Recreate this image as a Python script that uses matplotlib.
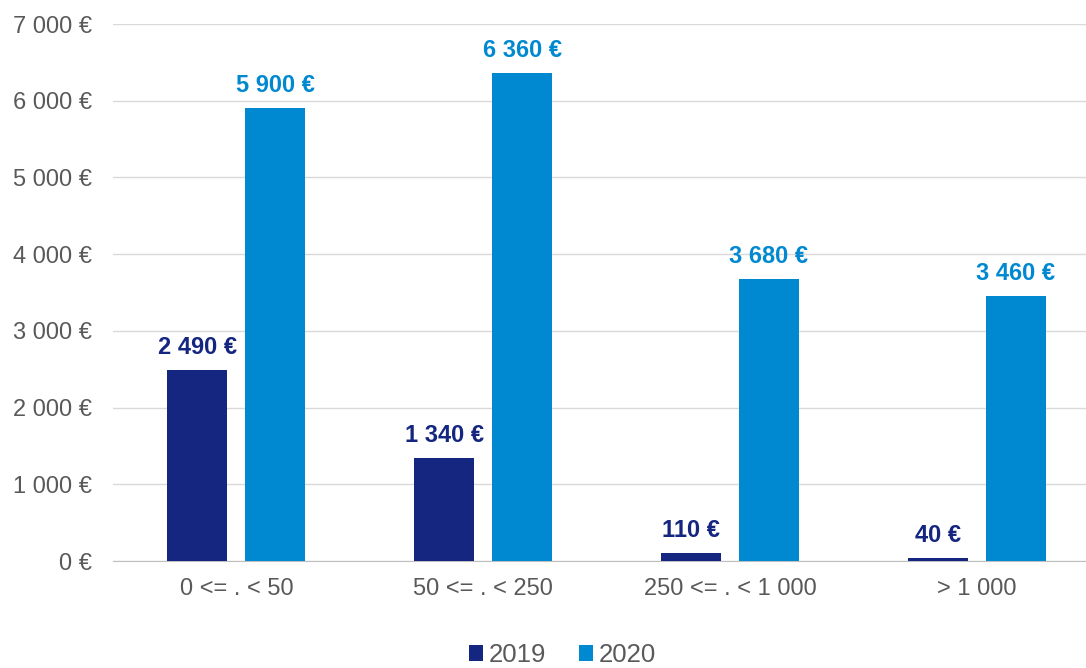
import numpy as np
import matplotlib.pyplot as plt
from matplotlib.ticker import FuncFormatter

plt.rcParams['font.family'] = ['Liberation Sans', 'DejaVu Sans']

categories = ['0 <= . < 50', '50 <= . < 250', '250 <= . < 1 000', '> 1 000']
vals_2019 = [2490, 1340, 110, 40]
vals_2020 = [5900, 6360, 3680, 3460]
series = ['2019', '2020']
colors = ['#14267f', '#0088d1']


def euro(v, pos=None):
    return f"{int(v):,} €".replace(',', ' ')


fig = plt.figure(figsize=(10.86, 6.68), dpi=100)
ax = fig.add_axes([0.104, 0.160, 0.909, 0.804])

x = np.arange(len(categories))
w = 0.243
off = 0.158
b1 = ax.bar(x - off, vals_2019, w, color=colors[0], label=series[0], zorder=3)
b2 = ax.bar(x + off, vals_2020, w, color=colors[1], label=series[1], zorder=3)

for bars, vals, c in [(b1, vals_2019, colors[0]), (b2, vals_2020, colors[1])]:
    for r, v in zip(bars, vals):
        ax.annotate(euro(v), (r.get_x() + r.get_width() / 2, v),
                    xytext=(0, 8), textcoords='offset points',
                    ha='center', va='bottom', fontsize=17, fontweight='bold', color=c)

ax.set_xlim(-0.5, len(categories) - 0.5)
ax.set_ylim(0, 7000)
ax.set_yticks(np.arange(0, 7001, 1000))
ax.yaxis.set_major_formatter(FuncFormatter(euro))
ax.set_xticks(x)
ax.set_xticklabels(categories)
ax.tick_params(axis='both', length=0, labelsize=17, colors='#595959')
ax.tick_params(axis='y', pad=15)
ax.tick_params(axis='x', pad=12)
ax.grid(axis='y', color='#d9d9d9', linewidth=1, zorder=0)
for s in ['top', 'right', 'left']:
    ax.spines[s].set_visible(False)
ax.spines['bottom'].set_color('#bfbfbf')

leg = fig.legend(handles=[b1, b2], labels=series, loc='lower center',
                 bbox_to_anchor=(0.518, -0.033), ncol=2, frameon=False,
                 fontsize=18.5, handlelength=0.55, handleheight=0.55,
                 handletextpad=0.2, columnspacing=1.3)
for t in leg.get_texts():
    t.set_color('#595959')

fig.savefig('out.png', dpi=100)
